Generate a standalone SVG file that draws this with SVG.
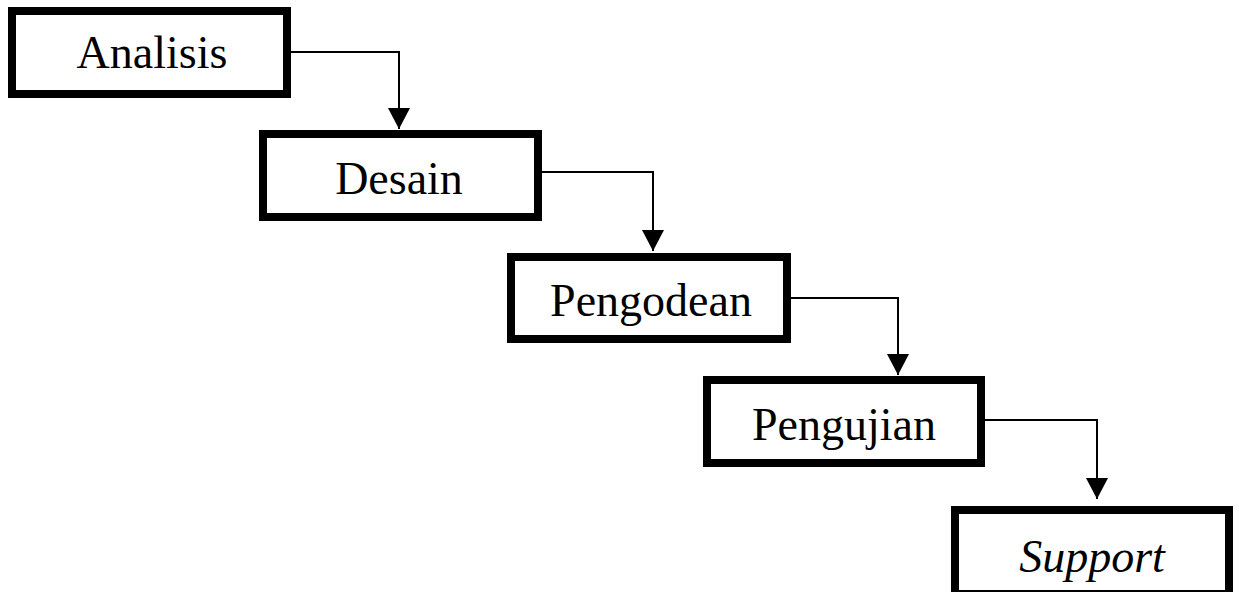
<svg xmlns="http://www.w3.org/2000/svg" width="1239" height="592" viewBox="0 0 1239 592">
<style>
.box{fill:#fff;stroke:#000;stroke-width:8}
.lbl{font-family:"Liberation Serif","Times New Roman",serif;font-size:46px;fill:#000;text-anchor:middle}
.con{fill:none;stroke:#000;stroke-width:2}
</style>
<defs>
<marker id="arr" markerUnits="userSpaceOnUse" markerWidth="22" markerHeight="22" viewBox="0 0 22 22" refX="21" refY="11" orient="auto">
<path d="M0,0 L21,11 L0,22 Z" fill="#000"/>
</marker>
</defs>
<rect width="1239" height="592" fill="#fff"/>
<g id="connectors">
<path class="con" d="M291,52 H399 V129" marker-end="url(#arr)"/>
<path class="con" d="M542,172 H653 V251" marker-end="url(#arr)"/>
<path class="con" d="M791,298 H898 V375" marker-end="url(#arr)"/>
<path class="con" d="M985,420 H1097 V499" marker-end="url(#arr)"/>
</g>
<g id="analisis">
<rect class="box" x="12" y="11" width="275" height="83"/>
<text class="lbl" x="152" y="68">Analisis</text>
</g>
<g id="desain">
<rect class="box" x="263" y="134" width="275" height="83"/>
<text class="lbl" x="399" y="194">Desain</text>
</g>
<g id="pengodean">
<rect class="box" x="511" y="257" width="276" height="82"/>
<text class="lbl" x="651" y="316">Pengodean</text>
</g>
<g id="pengujian">
<rect class="box" x="707" y="380" width="274" height="83"/>
<text class="lbl" x="844" y="440">Pengujian</text>
</g>
<g id="support">
<rect class="box" x="955" y="510" width="274" height="84"/>
<text class="lbl" x="1092" y="572" font-style="italic">Support</text>
</g>
</svg>
